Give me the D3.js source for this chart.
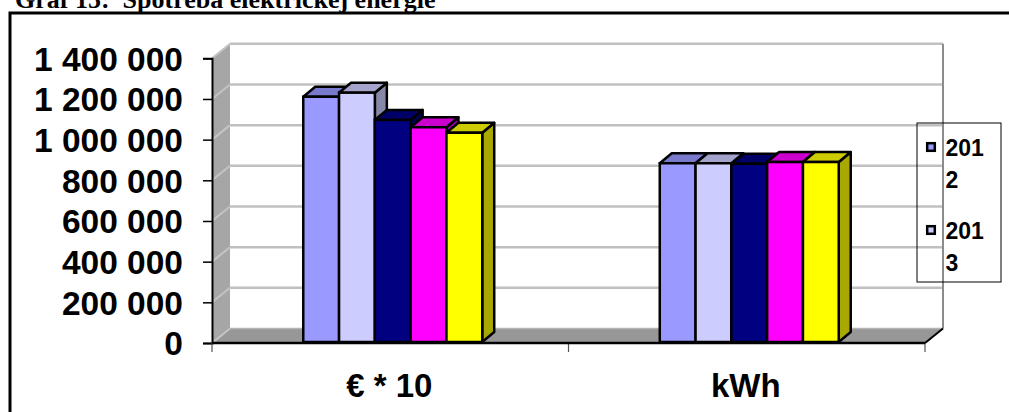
<!DOCTYPE html>
<html><head><meta charset="utf-8">
<script src="https://cdn.jsdelivr.net/npm/d3@7"></script>
<style>
html,body{margin:0;padding:0;background:#fff;overflow:hidden}
svg{display:block}
</style></head>
<body>
<svg id="c" width="1009" height="412"></svg>
<script>
const title = "Graf 15:  Spotreba elektrickej energie";
const categories = ["€ * 10", "kWh"];
const series = ["2012", "2013", "2014", "2015", "2016"];
const values2012 = [1206000, 879000];
const values2013 = [1226000, 879000];
const values2014 = [1092000, 876000];
const values2015 = [1056000, 885000];
const values2016 = [1029000, 885000];
const yTicks = [0, 200000, 400000, 600000, 800000, 1000000, 1200000, 1400000];
const colors = ["#9999ff", "#ccccff", "#000080", "#ff00ff", "#ffff00"];

const allValues = [values2012, values2013, values2014, values2015, values2016];

(function () {
const svg = d3.select("#c");
const pL = 212, pR = 925, pB = 343, pT = 58.3;
const DX = 18, DY = -14.5;   // wall depth
const BDX = 12, BDY = -10;   // bar depth

const y = d3.scaleLinear().domain([0, 1400000]).range([pB, pT]);
const x0 = d3.scaleBand().domain(categories).range([pL, pR]).padding(0);

// frame
svg.append("rect").attr("x", 10).attr("y", 13).attr("width", 1100).attr("height", 500)
  .attr("fill", "none").attr("stroke", "#000").attr("stroke-width", 3);

// title
svg.append("text").attr("x", 15).attr("y", 7.5)
  .attr("font-family", "'Liberation Serif','Times New Roman',serif")
  .attr("font-weight", "bold").attr("font-size", 26)
  .style("white-space", "pre").text(title);

// left wall
const g = svg.append("g");
g.append("polygon")
  .attr("points", [[pL, pB], [pL, pT], [pL + DX, pT + DY], [pL + DX, pB + DY]].join(" "))
  .attr("fill", "#a6a6a6");
// floor
g.append("polygon")
  .attr("points", [[pL, pB], [pR, pB], [pR + DX, pB + DY], [pL + DX, pB + DY]].join(" "))
  .attr("fill", "#979797");

// gridlines (back wall + side wall)
yTicks.forEach(t => {
  const yy = y(t);
  g.append("line").attr("x1", pL + DX).attr("x2", pR + DX)
    .attr("y1", yy + DY).attr("y2", yy + DY)
    .attr("stroke", t > 0 ? "#c0c0c0" : "#b4b4b4").attr("stroke-width", t > 0 ? 2.5 : 1.5);
  g.append("line").attr("x1", pL).attr("x2", pL + DX)
    .attr("y1", yy).attr("y2", yy + DY)
    .attr("stroke", "#c4c4c4").attr("stroke-width", 2);
});
// back wall right edge
g.append("line").attr("x1", pR + DX).attr("x2", pR + DX)
  .attr("y1", pT + DY).attr("y2", pB + DY)
  .attr("stroke", "#8c8c8c").attr("stroke-width", 2);

// y axis
const yAxis = d3.axisLeft(y).tickValues(yTicks).tickSize(9).tickPadding(20)
  .tickFormat(d => d3.format(",")(d).replace(/,/g, " "));
const ya = svg.append("g").attr("transform", `translate(${pL},0)`).call(yAxis);
ya.select(".domain").attr("stroke", "#000").attr("stroke-width", 2);
ya.selectAll(".tick line").attr("stroke", "#000").attr("stroke-width", 1.5);
ya.selectAll(".tick text").attr("font-family", "'Liberation Sans',Arial,sans-serif")
  .attr("font-weight", "bold").attr("font-size", 33.5).attr("fill", "#000").attr("dy", "0.355em");

// x axis
const xAxis = d3.axisBottom(x0).tickSize(9).tickPadding(22).tickFormat(d => d);
const xa = svg.append("g").attr("transform", `translate(0,${pB})`).call(xAxis);
xa.select(".domain").remove();
xa.selectAll(".tick line").remove();
[pL, (pL + pR) / 2, pR].forEach(tx => {
  xa.append("line").attr("x1", tx).attr("x2", tx).attr("y1", 0).attr("y2", 9)
    .attr("stroke", "#555").attr("stroke-width", 1.2);
});
xa.selectAll(".tick text").attr("font-family", "'Liberation Sans',Arial,sans-serif")
  .attr("font-weight", "bold").attr("font-size", 33).attr("fill", "#000")
  .attr("dy", "0.71em").attr("dx", -1);

// floor front edge & right edge
svg.append("line").attr("x1", pL).attr("x2", pR).attr("y1", pB).attr("y2", pB)
  .attr("stroke", "#000").attr("stroke-width", 2.5);
svg.append("line").attr("x1", pR).attr("x2", pR + DX).attr("y1", pB).attr("y2", pB + DY)
  .attr("stroke", "#000").attr("stroke-width", 2);

// bars
const shade = (c, k) => { const r = d3.rgb(c); return d3.rgb(r.r * k, r.g * k, r.b * k).formatHex(); };
const groupW = x0.bandwidth() * 0.502;
const bars = svg.append("g");
categories.forEach((cat, ci) => {
  const cx = x0(cat) + x0.bandwidth() / 2 + 2.5;
  const x1 = d3.scaleBand().domain(series).range([cx - groupW / 2, cx + groupW / 2]);
  series.forEach((s, si) => {
    const v = allValues[si][ci];
    const bx = x1(s), bw = x1.bandwidth();
    const yt = y(v) - 1, yb = pB - 1;
    const col = colors[si];
    bars.append("polygon")
      .attr("points", [[bx + bw, yb], [bx + bw, yt], [bx + bw + BDX, yt + BDY], [bx + bw + BDX, yb + BDY]].join(" "))
      .attr("fill", shade(col, 0.66)).attr("stroke", "#000").attr("stroke-width", 2.5).attr("stroke-linejoin", "round");
    bars.append("polygon")
      .attr("points", [[bx, yt], [bx + bw, yt], [bx + bw + BDX, yt + BDY], [bx + BDX, yt + BDY]].join(" "))
      .attr("fill", shade(col, 0.8)).attr("stroke", "#000").attr("stroke-width", 2.5).attr("stroke-linejoin", "round");
    bars.append("rect").attr("x", bx).attr("y", yt).attr("width", bw).attr("height", yb - yt)
      .attr("fill", col).attr("stroke", "#000").attr("stroke-width", 2.5);
  });
});

// legend (box too small: only the entries that fit are shown, as in the reference)
const lg = svg.append("g");
const lx = 917, ly = 123, lw = 84, lh = 159;
lg.append("rect").attr("x", lx).attr("y", ly).attr("width", lw).attr("height", lh)
  .attr("fill", "none").attr("stroke", "#000").attr("stroke-width", 1);
series.forEach((s, i) => {
  const iy = 142 + i * 83;
  if (iy + 46 > ly + lh) return;
  lg.append("rect").attr("x", 927.2).attr("y", iy + 1.2).attr("width", 7.6).attr("height", 7.6)
    .attr("fill", colors[i]).attr("stroke", "#000").attr("stroke-width", 2.5);
  const t = lg.append("text").attr("font-family", "'Liberation Sans',Arial,sans-serif")
    .attr("font-weight", "bold").attr("font-size", 23).attr("fill", "#000");
  t.append("tspan").attr("x", 945.5).attr("y", iy + 13.5).text(s.slice(0, 3));
  t.append("tspan").attr("x", 945.5).attr("y", iy + 45.5).text(s.slice(3));
});
})();
</script>
</body></html>
